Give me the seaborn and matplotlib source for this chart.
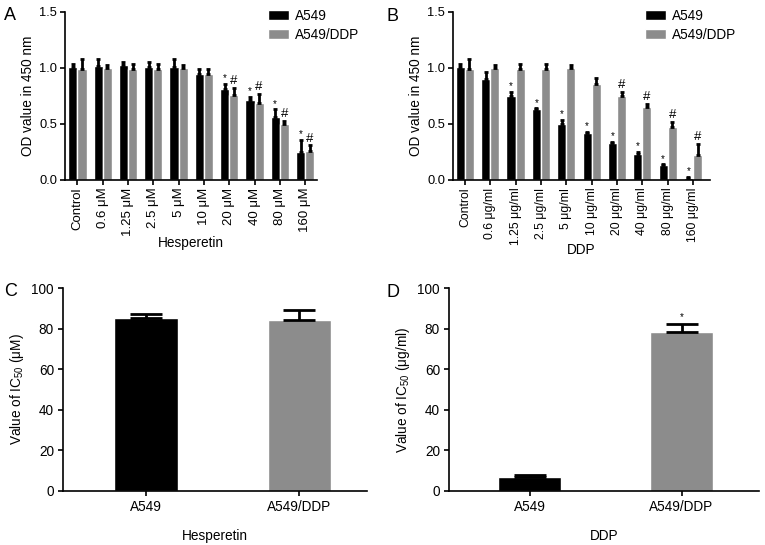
import numpy as np
import pandas as pd
import matplotlib.pyplot as plt
import seaborn as sns

# CCK-8 viability, panels A and B
HESP_DOSES = ['Control', '0.6 μM', '1.25 μM', '2.5 μM', '5 μM',
              '10 μM', '20 μM', '40 μM', '80 μM', '160 μM']
hesp_a549     = [1.01, 1.02, 1.03, 1.01, 1.01, 0.95, 0.81, 0.71, 0.56, 0.25]
hesp_a549_err = [0.03, 0.06, 0.02, 0.04, 0.07, 0.04, 0.05, 0.03, 0.07, 0.11]
hesp_ddp      = [0.99, 1.00, 0.99, 0.99, 1.00, 0.95, 0.76, 0.69, 0.50, 0.26]
hesp_ddp_err  = [0.09, 0.03, 0.05, 0.05, 0.03, 0.04, 0.06, 0.08, 0.03, 0.05]
hesp_star     = [0, 0, 0, 0, 0, 0, 1, 1, 1, 1]
hesp_hash     = [0, 0, 0, 0, 0, 0, 1, 1, 1, 1]

DDP_DOSES = ['Control', '0.6 μg/ml', '1.25 μg/ml', '2.5 μg/ml', '5 μg/ml',
             '10 μg/ml', '20 μg/ml', '40 μg/ml', '80 μg/ml', '160 μg/ml']
ddp_a549      = [1.01, 0.90, 0.75, 0.63, 0.50, 0.42, 0.33, 0.23, 0.13, 0.02]
ddp_a549_err  = [0.03, 0.06, 0.04, 0.01, 0.04, 0.01, 0.01, 0.02, 0.01, 0.01]
ddp_ddp       = [0.99, 1.00, 0.99, 0.99, 1.00, 0.86, 0.75, 0.65, 0.47, 0.22]
ddp_ddp_err   = [0.09, 0.03, 0.05, 0.05, 0.03, 0.05, 0.04, 0.03, 0.05, 0.10]
ddp_star      = [0, 0, 1, 1, 1, 1, 1, 1, 1, 1]
ddp_hash      = [0, 0, 0, 0, 0, 0, 1, 1, 1, 1]

# IC50, panels C and D
LINES = ['A549', 'A549/DDP']
ic50_hesp     = [85.3, 84.0]
ic50_hesp_err = [1.8, 5.0]
ic50_ddp      = [7.0, 78.4]
ic50_ddp_err  = [0.8, 3.8]
ic50_ddp_star = [0, 1]

COLORS = ['#000000', '#8c8c8c']
FS = 9.8

sns.set_style('ticks')
plt.rcParams['font.family'] = ['Liberation Sans', 'DejaVu Sans']
plt.rcParams['axes.linewidth'] = 1.2
plt.rcParams['xtick.major.width'] = 1.2
plt.rcParams['ytick.major.width'] = 1.2
plt.rcParams['xtick.major.size'] = 3.5
plt.rcParams['ytick.major.size'] = 3.5
plt.rcParams['xtick.color'] = 'black'
plt.rcParams['ytick.color'] = 'black'
plt.rcParams['axes.edgecolor'] = 'black'
plt.rcParams['text.color'] = 'black'
plt.rcParams['axes.labelcolor'] = 'black'


def viability_panel(ax, doses, a549, a549_err, ddp, ddp_err, star, hsh,
                    xlabel, legend_xy, xlim, xtick_fs, xlab_y):
    df = pd.DataFrame({
        'dose': doses * 2,
        'od': a549 + ddp,
        'line': ['A549'] * len(doses) + ['A549/DDP'] * len(doses),
    })
    sns.barplot(data=df, x='dose', y='od', hue='line', palette=COLORS,
                saturation=1, width=0.72, gap=0, errorbar=None, ax=ax)
    errs = [a549_err, ddp_err]
    marks = [(star, '*', 7), (hsh, '#', 9.5)]
    bars = list(ax.containers)
    for k, cont in enumerate(bars):
        xs = [p.get_x() + p.get_width() / 2 for p in cont.patches]
        hs = [p.get_height() for p in cont.patches]
        e = np.array(errs[k])
        ax.errorbar(xs, hs, yerr=[np.zeros_like(e), e], fmt='none',
                    ecolor='black', elinewidth=2, capsize=1.3, capthick=2)
        flags, sym, fs = marks[k]
        for x, h, ee, f in zip(xs, hs, e, flags):
            if f:
                ax.annotate(sym, (x, h + ee), xytext=(0, 0.5),
                            textcoords='offset points', ha='center',
                            va='bottom', fontsize=fs)
    ax.set_ylim(0, 1.5)
    ax.set_yticks([0, 0.5, 1.0, 1.5])
    ax.set_yticklabels(['0.0', '0.5', '1.0', '1.5'])
    ax.set_xlim(*xlim)
    ax.set_ylabel('OD value in 450 nm', fontsize=FS, labelpad=3)
    ax.set_xlabel(xlabel, fontsize=FS)
    ax.xaxis.set_label_coords(0.5, xlab_y)
    ax.tick_params(axis='x', labelrotation=90, labelsize=xtick_fs, pad=2)
    ax.tick_params(axis='y', labelsize=9.3, pad=2)
    sns.despine(ax=ax)
    sns.move_legend(ax, loc='upper left', bbox_to_anchor=legend_xy,
                    bbox_transform=ax.figure.transFigure, title=None,
                    frameon=False, fontsize=FS, handlelength=1.55,
                    handleheight=0.72, handletextpad=0.45,
                    labelspacing=0.35, borderpad=0, borderaxespad=0)


def ic50_panel(ax, vals, errs, ylabel, xlabel, star, xlim):
    df = pd.DataFrame({'line': LINES, 'ic50': vals})
    sns.barplot(data=df, x='line', y='ic50', hue='line', palette=COLORS,
                saturation=1, width=0.415, errorbar=None, legend=False, ax=ax)
    e = np.array(errs)
    bars = list(ax.containers)
    for k, cont in enumerate(bars):
        for p in cont.patches:
            x = p.get_x() + p.get_width() / 2
            h = p.get_height()
            ax.errorbar([x], [h], yerr=[[0], [e[k]]], fmt='none',
                        ecolor='black', elinewidth=2, capsize=11.5,
                        capthick=2)
            if star[k]:
                ax.annotate('*', (x, h + e[k]), xytext=(0, 1.5),
                            textcoords='offset points', ha='center',
                            va='bottom', fontsize=7)
    ax.set_ylim(0, 100)
    ax.set_yticks(range(0, 101, 20))
    ax.set_xlim(*xlim)
    ax.set_ylabel(ylabel, fontsize=FS, labelpad=4)
    ax.set_xlabel(xlabel, fontsize=FS, labelpad=11)
    ax.tick_params(axis='both', labelsize=FS, pad=3)
    sns.despine(ax=ax)


W, H = 765, 545
fig = plt.figure(figsize=(W / 100, H / 100), dpi=100)


def add_ax(l, r, t, b):
    return fig.add_axes([l / W, 1 - b / H, (r - l) / W, (b - t) / H])


axA = add_ax(65, 317, 12, 180)
axB = add_ax(453, 710, 12, 180)
axC = add_ax(63, 367, 288, 491)
axD = add_ax(449, 759, 288, 491)

viability_panel(axA, HESP_DOSES, hesp_a549, hesp_a549_err, hesp_ddp,
                hesp_ddp_err, hesp_star, hesp_hash, 'Hesperetin',
                (268 / W, 1 - 9 / H), (-0.49, 9.47), 9.5, -0.335)
viability_panel(axB, DDP_DOSES, ddp_a549, ddp_a549_err, ddp_ddp,
                ddp_ddp_err, ddp_star, ddp_hash, 'DDP',
                (645 / W, 1 - 9 / H), (-0.47, 9.67), 8.8, -0.375)
ic50_panel(axC, ic50_hesp, ic50_hesp_err,
           'Value of IC$_{\\mathregular{50}}$ (μM)', 'Hesperetin',
           [0, 0], (-0.54, 1.44))
ic50_panel(axD, ic50_ddp, ic50_ddp_err,
           'Value of IC$_{\\mathregular{50}}$ (μg/ml)', 'DDP',
           ic50_ddp_star, (-0.53, 1.51))

for lab, x, y in [('A', 4, 7), ('B', 387, 8), ('C', 4, 283), ('D', 387, 284)]:
    fig.text(x / W, 1 - y / H, lab, fontsize=13, ha='left', va='top')

fig.savefig('out.png', dpi=100)
